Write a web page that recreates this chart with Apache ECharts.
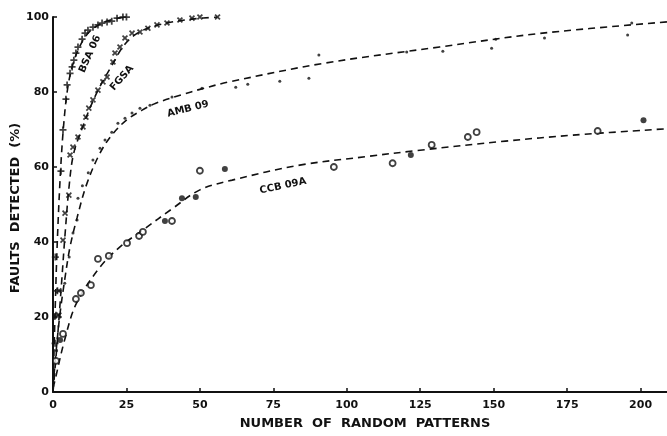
<!DOCTYPE html>
<html>
<head>
<meta charset="utf-8">
<script src="https://cdn.jsdelivr.net/npm/echarts@6/dist/echarts.min.js"></script>
<style>
  html, body { margin: 0; padding: 0; background: #fff; }
  #main { width: 667px; height: 436px; }
</style>
</head>
<body>
<div id="main"></div>
<script>
// measured points, [patterns, % detected]
const bsaPoints = [[0.7,13],[1,20.5],[1.5,27],[0.8,36],[2.7,58.9],[3.4,69.9],[4.4,78.1],[4.8,81.9],[5.8,85],[6.5,86.7],[7.1,88.5],[7.8,90.4],[8.5,92],[9.9,94.1],[10.9,95.7],[11.9,96.5],[13.6,97.3],[15.3,97.9],[16.7,98.4],[18.4,98.7],[20,98.9],[21.8,99.7],[23.8,100],[25,100]];
const fgsaPoints = [[2,20.5],[2,27],[3.4,40.5],[4.1,47.7],[5.4,52.5],[5.8,63.2],[6.8,65.3],[8.5,68],[10.2,70.7],[11.2,73.3],[12.2,75.7],[13.6,77.9],[15.3,80.5],[17,82.7],[18.4,84],[20.4,88],[21.1,90.4],[22.8,92],[24.5,94.4],[26.9,95.7],[29.6,96],[32.3,97],[35.4,97.9],[38.8,98.4],[43.2,99.2],[47.3,99.7],[50,100],[56,100]];
const ambPoints = [[1.2,11],[2.4,20],[4,29],[5.5,36],[6.8,42.4],[8.2,45.9],[8.5,51.7],[10,55],[12,58.5],[13.6,61.9],[16,65],[17.7,67.2],[20,69.3],[22.1,71.7],[24.5,73],[26.9,74.4],[29.6,75.7],[33,76.5],[40.5,78.7],[50.7,81],[62.2,81.3],[66.3,82.1],[77.2,82.9],[87.1,83.7],[90.5,89.9],[120.4,90.7],[132.7,90.9],[149.3,91.7],[150.7,94.1],[167.3,94.4],[195.6,95.2],[197,98.4]];
const ccbOpen = [[1,8.3],[3.4,15.5],[7.8,24.8],[9.5,26.4],[12.9,28.5],[15.3,35.5],[19,36.3],[25.2,39.7],[29.3,41.6],[30.6,42.7],[40.5,45.6],[50,59],[95.6,60],[115.6,61],[128.9,65.9],[141.2,68],[144.2,69.3],[185.4,69.6]];
const ccbFilled = [[2.4,13.9],[38.1,45.6],[43.9,51.7],[48.6,52],[58.5,59.5],[121.8,63.2],[201,72.5]];

// hand-read dashed fit curves
const bsaFit = [[0,0],[0.7,21],[1.4,38.7],[2.4,56.5],[3.5,70],[5,81],[7,88],[10,93.5],[13,96.5],[17,98.5],[21,99.5],[25,100]];
const fgsaFit = [[0,0],[1.3,12],[3,30],[4.1,42],[5.5,55],[7,63.5],[10,70.5],[13,76.5],[16,81.5],[20,87],[24,92.3],[28,95.3],[33,97.2],[40,98.6],[48,99.5],[56,100]];
const ambFit = [[0,1.3],[1.2,12],[2.4,21],[4,30],[5.8,38.7],[8.2,46.5],[11.5,55.5],[16,63.7],[20,68.5],[25,72.5],[30,75],[35,77],[44,79.3],[50,80.7],[60,82.7],[92.5,87.7],[131.6,92],[165.6,95.6],[209,98.7]];
const ccbFit = [[0,1],[0.7,3.2],[4,14],[8,23.7],[16,33.3],[22.8,38.7],[30.6,43.2],[40.8,49],[50,53.9],[61,56.5],[84,60.5],[107,62.8],[124,64.4],[154,66.9],[177,68.5],[209,70.2]];

const xTicks = [0, 25, 50, 75, 100, 125, 150, 175, 200];
const yTicks = [0, 20, 40, 60, 80, 100];

const font = '"DejaVu Sans", "Liberation Sans", sans-serif';
const plus = 'path://M-1,-4L1,-4L1,-1L4,-1L4,1L1,1L1,4L-1,4L-1,1L-4,1L-4,-1L-1,-1Z';

function fitLine(data) {
  return {
    type: 'line', data: data, smooth: 0.35, symbol: 'none', silent: true,
    lineStyle: { color: '#111', width: 1.6, type: [7, 5] }, z: 2
  };
}
function dots(data, symbol, size, style, rotate) {
  return {
    type: 'scatter', data: data, symbol: symbol, symbolSize: size,
    symbolRotate: rotate || 0, itemStyle: style, z: 3
  };
}
function note(text, x, y, deg, size) {
  return {
    type: 'text', x: x, y: y, rotation: deg * Math.PI / 180,
    style: { text: text, font: 'bold ' + size + 'px ' + font, fill: '#111', align: 'center', verticalAlign: 'middle' }
  };
}

const chart = echarts.init(document.getElementById('main'));
chart.setOption({
  animation: false,
  backgroundColor: '#fff',
  grid: { left: 53, right: -47, top: 17, bottom: 44, containLabel: false, outerBoundsMode: 'none' },
  xAxis: {
    type: 'value', min: 0, max: 225, interval: 25,
    axisLine: { lineStyle: { color: '#111', width: 2 } },
    axisTick: { inside: true, length: 4, lineStyle: { color: '#111', width: 1.5 } },
    axisLabel: {
      margin: 8, color: '#111', fontFamily: font, fontWeight: 'bold', fontSize: 11,
      formatter: v => xTicks.indexOf(v) >= 0 ? String(v) : ''
    },
    splitLine: { show: false }
  },
  yAxis: {
    type: 'value', min: 0, max: 100, interval: 20,
    axisLine: { lineStyle: { color: '#111', width: 2 } },
    axisTick: { inside: true, length: 4, lineStyle: { color: '#111', width: 1.5 } },
    axisLabel: {
      margin: 4, color: '#111', fontFamily: font, fontWeight: 'bold', fontSize: 11,
      formatter: v => yTicks.indexOf(v) >= 0 ? String(v) : ''
    },
    splitLine: { show: false }
  },
  series: [
    fitLine(bsaFit), fitLine(fgsaFit), fitLine(ambFit), fitLine(ccbFit),
    dots(bsaPoints, plus, 7, { color: '#111' }),
    dots(fgsaPoints, plus, 7, { color: '#111' }, 45),
    dots(ambPoints, 'circle', 3, { color: '#111' }),
    dots(ccbOpen, 'circle', 6, { color: '#fff', borderColor: '#111', borderWidth: 1.8 }),
    dots(ccbFilled, 'circle', 6, { color: '#111' })
  ],
  graphic: [
    note('BSA 06', 90, 54, 66, 10),
    note('FGSA', 122, 78, 49, 10),
    note('AMB 09', 188, 109, 14, 10),
    note('CCB 09A', 283, 186, 12, 10),
    note('NUMBER  OF  RANDOM  PATTERNS', 365, 424, 0, 13),
    note('FAULTS  DETECTED  (%)', 16, 208, 90, 13)
  ]
});
window.onresize = function() { chart.resize(); };
</script>
</body>
</html>
